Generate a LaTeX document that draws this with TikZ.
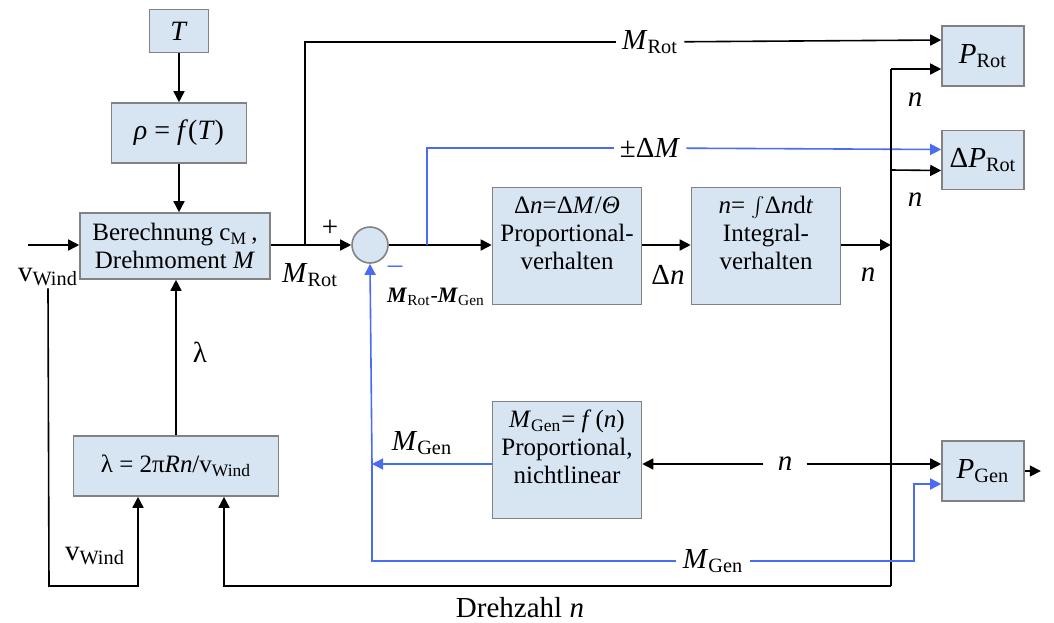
\documentclass[tikz,border=0pt]{standalone}
\usepackage{fontspec}
\setmainfont{Liberation Serif}
\usetikzlibrary{arrows.meta,positioning}
\definecolor{boxfill}{RGB}{215,228,241}
\definecolor{boxline}{RGB}{130,130,130}
\definecolor{sigblue}{RGB}{74,108,243}
\newcommand\Msub[1]{\textit{M}\textsubscript{#1}}
\newcommand\Psub[1]{\textit{P}\textsubscript{#1}}
\tikzset{
  blk/.style  = {draw=boxline, fill=boxfill, line width=0.8pt, align=center,
                 inner sep=1pt, font=\fontsize{12.5}{14}\selectfont},
  sumc/.style = {circle, draw=boxline, fill=boxfill, line width=0.8pt, minimum size=18pt},
  wire/.style = {line width=0.8pt},
  arr/.style  = {wire, -{Triangle[length=5.5pt,width=5.5pt]}},
  sig/.style  = {wire, sigblue},
  sarr/.style = {sig, -{Triangle[length=5.5pt,width=5.5pt]}},
  lbl/.style  = {inner sep=1pt, font=\fontsize{14.5}{16}\selectfont},
  inl/.style  = {lbl, fill=white, inner xsep=3pt, inner ysep=0.5pt},
}
\begin{document}
\begin{tikzpicture}[x=0.5pt,y=-0.5pt]
  \useasboundingbox (0,0) rectangle (1054,622);
  % blocks
  \node[blk, minimum width=29.5pt, minimum height=21.5pt, font=\fontsize{14}{16}\selectfont] (temp) at (179,31) {\textit{T}};
  \node[blk, minimum width=67.5pt, minimum height=30pt, font=\fontsize{14}{16}\selectfont] (rho) at (179,133) {\textit{ρ} = \textit{f}(\textit{T})};
  \node[blk, minimum width=95pt, minimum height=33pt] (calc) at (175,246)
    {Berechnung c\textsubscript{M}\,,\\Drehmoment \textit{M}};
  \node[blk, minimum width=102.5pt, minimum height=30pt] (lam) at (176,466)
    {λ = 2π\textit{Rn}/v\textsubscript{Wind}};
  \node[sumc] (sum) at (370,245) {};
  \node[blk, minimum width=74.5pt, minimum height=58.5pt] (prop) at (567,246)
    {Δ\textit{n}=Δ\textit{M}/\textit{Θ}\\Proportional-\\verhalten\\[-5pt]\strut};
  \node[blk, minimum width=74.5pt, minimum height=58.5pt] (integ) at (766,246)
    {\textit{n}= $\int$Δ\textit{n}d\textit{t}\\Integral-\\verhalten\\[-5pt]\strut};
  \node[blk, minimum width=74.5pt, minimum height=58.5pt] (mgen) at (567,460)
    {\Msub{Gen}= \textit{f}\,(\textit{n})\\Proportional,\\nichtlinear\\[-5pt]\strut};
  \node[blk, minimum width=41pt, minimum height=30pt, font=\fontsize{14.5}{16}\selectfont] (prot) at (983,56) {\Psub{Rot}};
  \node[blk, minimum width=41pt, minimum height=29.5pt, font=\fontsize{14.5}{16}\selectfont] (dprot) at (983,160) {Δ\Psub{Rot}};
  \node[blk, minimum width=41pt, minimum height=30pt, font=\fontsize{14.5}{16}\selectfont] (pgen) at (983,471) {\Psub{Gen}};
  % labels
  \node[lbl] (vwlbl) at (48,277) {v\textsubscript{Wind}};
  \node[lbl] (vwlbl2) at (95,556) {v\textsubscript{Wind}};
  \node[lbl] (lamlbl) at (200,352) {λ};
  \node[lbl] (mrotlbl) at (310,275) {\Msub{Rot}};
  \node[lbl] (plus) at (330,228) {+};
  \node[lbl, sigblue] (minus) at (395,270) {–};
  \node[inner sep=1pt, font=\fontsize{11}{13}\selectfont] (difflbl) at (436,297)
    {\textbf{\textit{M}}\textsubscript{Rot}-\textbf{\textit{M}}\textsubscript{Gen}};
  \node[lbl] (dnlbl) at (668,275) {Δ\textit{n}};
  \node[lbl] (nlbl) at (868,275) {\textit{n}};
  \node[lbl] (nrot) at (915,100) {\textit{n}};
  \node[lbl] (ndrot) at (915,200) {\textit{n}};
  \node[lbl] (mgenlbl) at (422,443) {\Msub{Gen}};
  \node[lbl] (drehzahl) at (520,608) {Drehzahl \textit{n}};
  \node[inl] (toplbl) at (650,42) {\Msub{Rot}};
  \node[inl] (dmlbl) at (650,148) {±Δ\textit{M}};
  \node[inl] (botlbl) at (713,561) {\Msub{Gen}};
  \node[inl, inner xsep=7pt] (nmid) at (785,464) {\textit{n}};
  % junctions
  \coordinate (vin) at (28,245);
  \coordinate (b1) at (305,245);
  \coordinate (b2) at (427,245);
  \coordinate (j1) at (891,245);
  \coordinate (jtop) at (891,69);
  \coordinate (jmid) at (891,170);
  \coordinate (jgen) at (891,464);
  \coordinate (jbot) at (891,586);
  \coordinate (vwb) at (49,586);
  \coordinate (mgj) at (372,464);
  \coordinate (pgb) at ([yshift=-6.5pt]pgen.west);
  % left part
  \draw[arr] (temp) -- (rho);
  \draw[arr] (rho.south) -- (rho.south |- calc.north);
  \draw[arr] (vin) -- (calc.west |- vin);
  \draw[arr] (lam.north) -- (lam.north |- calc.south);
  \draw[arr] (vwlbl.south) -- (vwb) -| ([xshift=-19pt]lam.south);
  \draw[arr] (jbot) -| ([xshift=24pt]lam.south);
  % main path
  \draw[arr] (calc.east |- b1) -- (sum.west);
  \draw[wire] (b1) |- (toplbl);
  \draw[arr] (toplbl) -- ([yshift=8pt]prot.west);
  \draw[arr] (sum.east) -- (prop.west |- sum.east);
  \draw[sig] (b2) |- (dmlbl);
  \draw[sarr] (dmlbl) -- ([yshift=5.25pt]dprot.west);
  \draw[arr] (prop.east |- sum.east) -- (integ.west |- sum.east);
  \draw[arr, line width=1.2pt] (integ.east |- j1) -- (j1);
  % speed n
  \draw[wire] (jtop) -- (jbot);
  \draw[arr] (jtop) -- ([yshift=-6.5pt]prot.west);
  \draw[arr] (jmid) -- ([yshift=-5.25pt]dprot.west);
  \draw[arr] (nmid) -- (mgen.east |- nmid);
  \draw[wire] (nmid) -- (jgen);
  \draw[arr] (jgen) -- ([yshift=3.5pt]pgen.west);
  % generator torque
  \draw[sarr] (mgen.west |- mgj) -- (mgj);
  \draw[sarr] (mgj) -- (sum.south);
  \draw[sig] (mgj) |- (botlbl);
  \draw[sarr] (botlbl) -| ([xshift=-13.5pt]pgb) -- (pgb);
  \draw[arr] (pgen.east) -- ++(16,0);
\end{tikzpicture}
\end{document}
